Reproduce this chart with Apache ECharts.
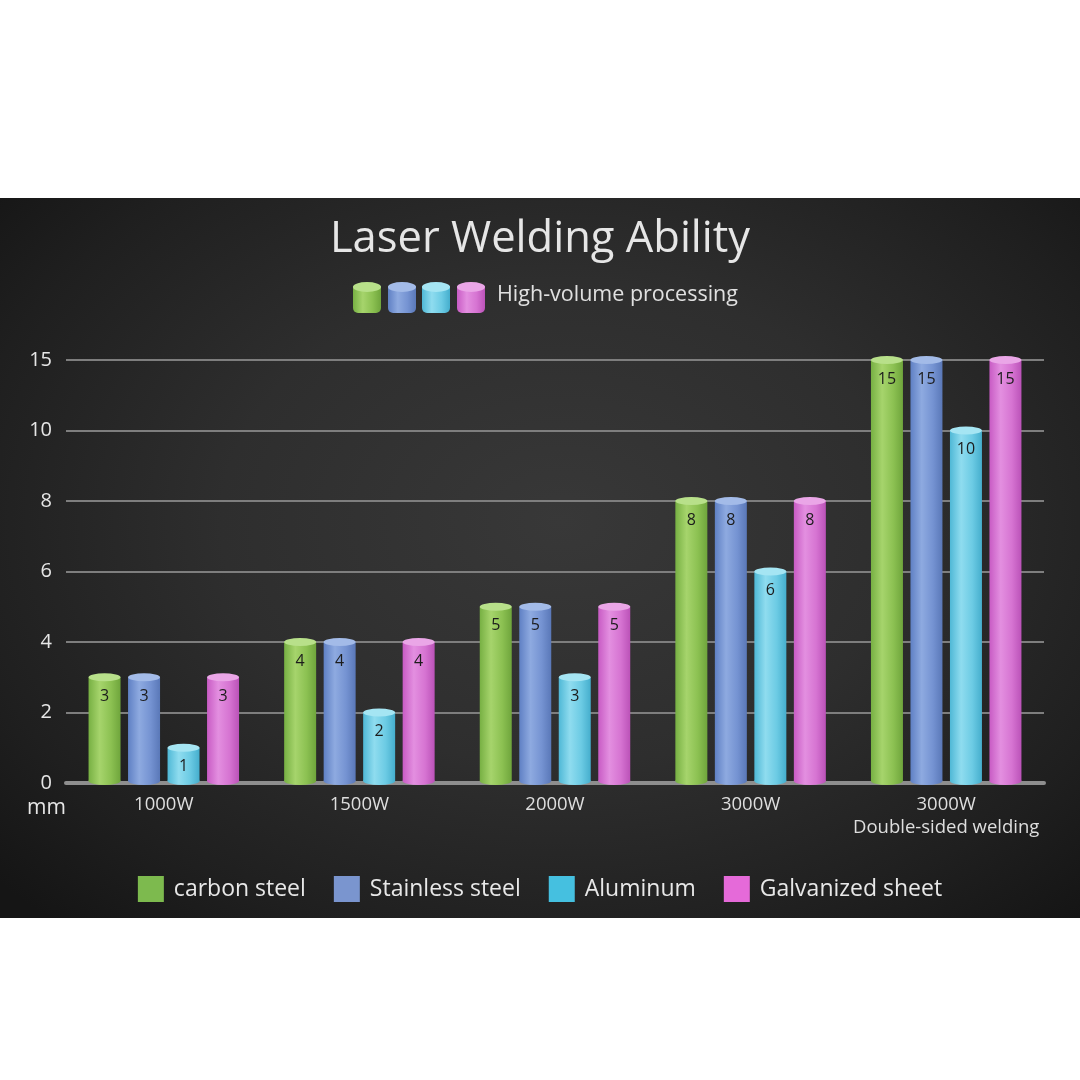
<!DOCTYPE html>
<html>
<head>
<meta charset="utf-8">
<script src="https://cdn.jsdelivr.net/npm/echarts@6/dist/echarts.min.js"></script>
<style>
  html, body { margin: 0; padding: 0; background: #fff; width: 1080px; height: 1080px; overflow: hidden; }
  #panel {
    position: absolute; left: 0; top: 198px; width: 1080px; height: 720px;
    background: radial-gradient(ellipse 70% 75% at 52% 45%, #383838 0%, #2e2e2e 45%, #1f1f1f 80%, #151515 100%);
  }
  #chart { width: 1080px; height: 720px; }
</style>
</head>
<body>
<div id="panel"><div id="chart"></div></div>
<script>
// categories and values (mm)
const categories = ['1000W', '1500W', '2000W', '3000W', '3000W\nDouble-sided welding'];
const carbonSteel = [3, 4, 5, 8, 15];
const stainlessSteel = [3, 4, 5, 8, 15];
const aluminum = [1, 2, 3, 6, 10];
const galvanized = [3, 4, 5, 8, 15];
const yTickLabels = ['0', '2', '4', '6', '8', '10', '15'];
const yTickValues = [0, 2, 4, 6, 8, 10, 15];

// axis is piecewise: ticks evenly spaced though values are not
function toAxis(v) {
  for (let i = 1; i < yTickValues.length; i++) {
    const a = yTickValues[i - 1], b = yTickValues[i];
    if (v <= b) return (i - 1) + (v - a) / (b - a);
  }
  return yTickValues.length - 1;
}

const materials = [
  { name: 'carbon steel', data: carbonSteel, flat: '#7dba4e',
    stops: ['#77b043', '#a6d46c', '#8cc152', '#6fa53c'], top: '#b8e08a' },
  { name: 'Stainless steel', data: stainlessSteel, flat: '#7a95cf',
    stops: ['#5f80c4', '#8eaae0', '#7593d2', '#5a78b8'], top: '#a3bbe8' },
  { name: 'Aluminum', data: aluminum, flat: '#45c0e0',
    stops: ['#4fb8d6', '#8fdcef', '#6ccbe4', '#45aecd'], top: '#a5e5f3' },
  { name: 'Galvanized sheet', data: galvanized, flat: '#e56ad9',
    stops: ['#c85bc4', '#e38fe0', '#d674d2', '#bb52b8'], top: '#eaa6e7' }
];

function gradient(stops) {
  return new echarts.graphic.LinearGradient(0, 0, 1, 0, [
    { offset: 0, color: stops[0] },
    { offset: 0.35, color: stops[1] },
    { offset: 0.7, color: stops[2] },
    { offset: 1, color: stops[3] }
  ]);
}

function cylinderRenderer(idx) {
  const m = materials[idx];
  return function (params, api) {
    const cat = api.value(0);
    const base = api.coord([cat, 0]);
    const top = api.coord([cat, api.value(1)]);
    const barW = 32;
    const gap = 7.5;
    const groupW = 4 * barW + 3 * gap;
    const x = base[0] - groupW / 2 + idx * (barW + gap);
    const ry = 4;
    const rx = barW / 2;
    const fill = gradient(m.stops);
    return {
      type: 'group',
      children: [
        { type: 'circle', x: x + rx, y: base[1] - 2, scaleY: ry / rx,
          shape: { cx: 0, cy: 0, r: rx }, style: { fill: fill } },
        { type: 'rect', shape: { x: x, y: top[1], width: barW, height: base[1] - 2 - top[1] },
          style: { fill: fill } },
        { type: 'circle', x: x + rx, y: top[1], scaleY: ry / rx,
          shape: { cx: 0, cy: 0, r: rx }, style: { fill: m.top } },
        { type: 'text', x: x + rx, y: top[1] + 19,
          style: { text: String(api.value(2)), fill: '#1c1c1c', fontSize: 16,
            fontFamily: 'Open Sans', align: 'center', verticalAlign: 'middle' } }
      ]
    };
  };
}

function miniCylinder(x, color, topColor) {
  return [
    { type: 'rect', left: x, top: 88, shape: { width: 28, height: 27, r: [0, 0, 5, 5] },
      style: { fill: color } },
    { type: 'circle', x: x + 14, y: 89, scaleY: 5 / 14, shape: { cx: 0, cy: 0, r: 14 },
      style: { fill: topColor } }
  ];
}

const chart = echarts.init(document.getElementById('chart'));
chart.setOption({
  backgroundColor: 'transparent',
  textStyle: { fontFamily: 'Open Sans' },
  title: {
    text: 'Laser Welding Ability',
    left: 'center', top: 15,
    textStyle: { color: '#e6e6e6', fontSize: 43.5, fontWeight: 'normal', fontFamily: 'Open Sans' }
  },
  graphic: [
    ...materials.flatMap((m, i) => miniCylinder([353, 388, 422, 457][i], gradient(m.stops), m.top)),
    { type: 'text', left: 497, top: 86,
      style: { text: 'High-volume processing', fill: '#e0e0e0', fontSize: 21.5, fontFamily: 'Open Sans' } },
    { type: 'text', left: 27, top: 600,
      style: { text: 'mm', fill: '#e6e6e6', fontSize: 21, fontFamily: 'Open Sans' } }
  ],
  legend: {
    top: 673,
    left: 'center',
    icon: 'rect',
    itemWidth: 26,
    itemHeight: 26,
    itemGap: 28,
    textStyle: { color: '#e8e8e8', fontSize: 23, fontFamily: 'Open Sans', padding: [0, 0, 0, 5] },
    data: materials.map(m => m.name)
  },
  grid: { left: 66, right: 36, top: 162, bottom: 135 },
  xAxis: {
    type: 'category',
    data: categories,
    axisTick: { show: false },
    axisLine: { lineStyle: { color: '#8e8e8e', width: 4 } },
    axisLabel: { interval: 0, color: '#dedede', fontSize: 18.5, margin: 10, lineHeight: 23,
      fontFamily: 'Open Sans' }
  },
  yAxis: {
    type: 'value',
    min: 0, max: yTickValues.length - 1, interval: 1,
    axisLine: { show: false },
    axisTick: { show: false },
    axisLabel: { color: '#e6e6e6', fontSize: 20, margin: 14,
      formatter: v => yTickLabels[v] ?? '' },
    splitLine: { lineStyle: { color: '#7e7e7e', width: 2 } }
  },
  series: materials.map((m, i) => ({
    type: 'custom',
    name: m.name,
    itemStyle: { color: m.flat },
    renderItem: cylinderRenderer(i),
    encode: { x: 0, y: 1 },
    data: m.data.map((v, j) => [j, toAxis(v), v])
  }))
});
</script>
</body>
</html>
